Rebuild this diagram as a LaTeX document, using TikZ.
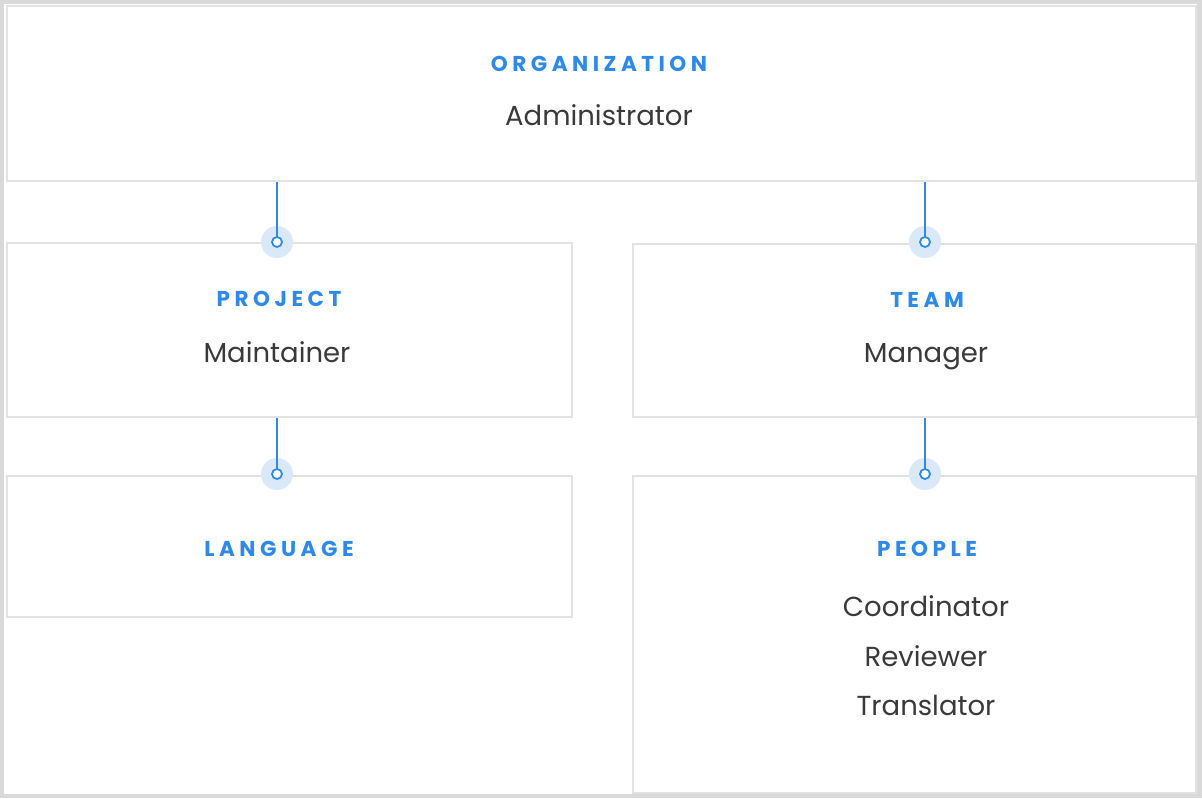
\documentclass[tikz,border=0pt]{standalone}
\usepackage{fontspec}
\setmainfont{Poppins}
\usetikzlibrary{positioning}
\definecolor{rolblue}{RGB}{46,137,232}
\definecolor{rolhalo}{RGB}{218,233,250}
\definecolor{rolgray}{RGB}{58,58,58}
\definecolor{boxline}{RGB}{226,226,226}
\definecolor{framegray}{RGB}{217,217,217}

\begin{document}
\begin{tikzpicture}[x=1pt,y=-1pt,
	box/.style={draw=boxline,line width=2pt,fill=white,anchor=north west,inner sep=0pt},
	title/.style={anchor=base,text=rolblue,font=\fontsize{21.5}{21.5}\selectfont\bfseries\addfontfeatures{LetterSpace=21}},
	role/.style={anchor=base,text=rolgray,font=\fontsize{27.5}{27.5}\selectfont},
	halo/.style={circle,fill=rolhalo,minimum size=32pt,inner sep=0pt},
	dot/.style={circle,draw=rolblue,line width=1.8pt,fill=white,minimum size=10pt,inner sep=0pt},
	link/.style={draw=rolblue,line width=2pt}]
	\useasboundingbox (0,0) rectangle (1202,798);
	\fill[framegray] (0,0) rectangle (1202,798);
	\fill[white] (4,4) rectangle (1197,794);
	\node[box,minimum width=1189pt,minimum height=175pt] (org) at (6,5) {};
	\node[box,minimum width=565pt,minimum height=174pt] (prj) at (6,242) {};
	\node[box,minimum width=563pt,minimum height=173pt] (team) at (632,243) {};
	\node[box,minimum width=565pt,minimum height=141pt] (lang) at (6,475) {};
	\node[box,minimum width=563pt,minimum height=317pt] (people) at (632,475) {};
	\node[title] (orgname) at (599,71) {ORGANIZATION};
	\node[role] (admin) at (599,125) {Administrator};
	\node[title] (prjname) at (279,306) {PROJECT};
	\node[role] (maint) at (277,362) {Maintainer};
	\node[title] (teamname) at (927,307) {TEAM};
	\node[role] (mgr) at (926,362) {Manager};
	\node[title] (langname) at (279,556) {LANGUAGE};
	\node[title] (peoplename) at (927,556) {PEOPLE};
	\node[role] (coord) at (926,616) {Coordinator};
	\node[role] (rev) at (926,666) {Reviewer};
	\node[role] (trans) at (926,715) {Translator};
	\node[halo] (h1) at (277,242) {};
	\node[halo] (h2) at (925,242) {};
	\node[halo] (h3) at (277,474) {};
	\node[halo] (h4) at (925,474) {};
	\draw[link] (h1.center |- org.south) -- (h1.center);
	\draw[link] (h2.center |- org.south) -- (h2.center);
	\draw[link] (h3.center |- prj.south) -- (h3.center);
	\draw[link] (h4.center |- team.south) -- (h4.center);
	\node[dot] (d1) at (h1) {};
	\node[dot] (d2) at (h2) {};
	\node[dot] (d3) at (h3) {};
	\node[dot] (d4) at (h4) {};
\end{tikzpicture}
\end{document}
